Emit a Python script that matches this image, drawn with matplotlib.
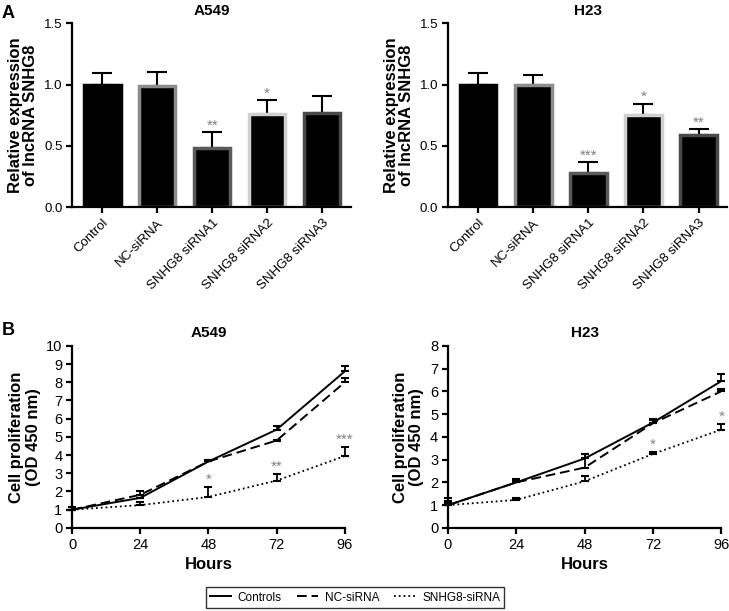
import matplotlib
matplotlib.use("Agg")
import matplotlib.pyplot as plt
import numpy as np

plt.rcParams["font.family"] = ["Liberation Sans", "DejaVu Sans"]

groups = ["Control", "NC-siRNA", "SNHG8 siRNA1", "SNHG8 siRNA2", "SNHG8 siRNA3"]
a549_expr = [1.0, 0.985, 0.485, 0.757, 0.77]
a549_err = [0.095, 0.12, 0.125, 0.115, 0.14]
a549_sig = ["", "", "**", "*", ""]
h23_expr = [1.0, 1.0, 0.28, 0.75, 0.585]
h23_err = [0.095, 0.076, 0.085, 0.095, 0.05]
h23_sig = ["", "", "***", "*", "**"]
bar_edges = ["black", "#8c8c8c", "#5a5a5a", "#d0d0d0", "#4a4a4a"]

hours = [0, 24, 48, 72, 96]
a549_ctrl = [1.0, 1.65, 3.65, 5.4, 8.6]
a549_ctrl_err = [0.15, 0.0, 0.08, 0.22, 0.28]
a549_nc = [1.0, 1.82, 3.65, 4.8, 8.0]
a549_nc_err = [0.15, 0.18, 0.08, 0.05, 0.25]
a549_si = [1.0, 1.25, 1.7, 2.6, 3.95]
a549_si_err = [0.15, 0.15, 0.52, 0.35, 0.5]
a549_si_sig = ["", "", "*", "**", "***"]

h23_ctrl = [1.0, 2.0, 3.05, 4.63, 6.45]
h23_ctrl_err = [0.3, 0.15, 0.2, 0.15, 0.3]
h23_nc = [1.0, 2.0, 2.65, 4.6, 6.0]
h23_nc_err = [0.2, 0.1, 0.6, 0.15, 0.1]
h23_si = [1.0, 1.23, 2.05, 3.25, 4.32]
h23_si_err = [0.1, 0.08, 0.22, 0.1, 0.23]
h23_si_sig = ["", "", "", "*", "*"]

fig = plt.figure(figsize=(7.29, 6.11), dpi=100)


def style_axes(ax, size):
    for s in ["top", "right"]:
        ax.spines[s].set_visible(False)
    for s in ["left", "bottom"]:
        ax.spines[s].set_linewidth(1.6)
    ax.tick_params(width=1.6, length=4, labelsize=size, direction="out", pad=3)


def bar_panel(rect, title, vals, errs, sigs):
    ax = fig.add_axes(rect)
    x = np.arange(len(groups))
    ax.bar(x, vals, width=0.66, color="black", edgecolor=bar_edges, linewidth=2.5, zorder=2)
    ax.errorbar(x, vals, yerr=[np.zeros(len(vals)), errs], fmt="none", ecolor="black",
                elinewidth=1.5, capsize=7, capthick=1.5, zorder=1)
    for xi, v, e, s in zip(x, vals, errs, sigs):
        if s:
            ax.text(xi, v + e - 0.005, s, ha="center", va="bottom", color="#808080", fontsize=11)
    ax.set_xlim(-0.55, 4.52)
    ax.set_ylim(0, 1.5)
    ax.set_yticks([0, 0.5, 1.0, 1.5])
    ax.set_yticklabels(["0.0", "0.5", "1.0", "1.5"])
    ax.set_xticks(x)
    ax.set_xticklabels(groups, rotation=45, ha="right", rotation_mode="anchor")
    ax.set_title(title, fontsize=11, fontweight="bold", pad=6)
    ax.set_ylabel("Relative expression\nof lncRNA SNHG8", fontsize=12, fontweight="bold",
                  linespacing=1.0)
    style_axes(ax, 9.5)
    return ax


def line_panel(rect, title, ymax, ctrl, ce, nc, ne, si, se, sigs):
    ax = fig.add_axes(rect)
    l1, = ax.plot(hours, ctrl, "-", color="black", lw=1.4)
    l2, = ax.plot(hours, nc, "--", color="black", lw=1.4, dashes=(5, 2.5))
    l3, = ax.plot(hours, si, ":", color="black", lw=1.3)
    for ys, es in [(ctrl, ce), (nc, ne), (si, se)]:
        eb = ax.errorbar(hours, ys, yerr=[np.zeros(len(ys)), es], fmt="none", ecolor="black",
                         elinewidth=1.3, capsize=3, capthick=1.5)
        for art in eb.lines[1] + eb.lines[2]:
            art.set_clip_on(False)
    for h, v, e, s in zip(hours, si, se, sigs):
        if s:
            ax.text(h, v + e + 0.02 * ymax / 10, s, ha="center", va="bottom",
                    color="#808080", fontsize=11)
    ax.set_xlim(0, 96)
    ax.set_ylim(0, ymax)
    ax.set_xticks(hours)
    ax.set_yticks(range(0, ymax + 1))
    ax.set_title(title, fontsize=11, fontweight="bold", pad=6)
    ax.set_xlabel("Hours", fontsize=12, fontweight="bold", labelpad=4)
    ax.set_ylabel("Cell proliferation\n(OD 450 nm)", fontsize=12, fontweight="bold",
                  linespacing=1.15)
    style_axes(ax, 10.5)
    return ax, (l1, l2, l3)


bar_panel([0.099, 0.661, 0.382, 0.301], "A549", a549_expr, a549_err, a549_sig)
bar_panel([0.6145, 0.661, 0.383, 0.301], "H23", h23_expr, h23_err, h23_sig)

line_panel([0.099, 0.136, 0.374, 0.298], "A549", 10,
           a549_ctrl, a549_ctrl_err, a549_nc, a549_nc_err, a549_si, a549_si_err, a549_si_sig)
ax, lines = line_panel([0.6145, 0.136, 0.375, 0.298], "H23", 8,
                       h23_ctrl, h23_ctrl_err, h23_nc, h23_nc_err, h23_si, h23_si_err, h23_si_sig)

leg = fig.legend(lines, ["Controls", "NC-siRNA", "SNHG8-siRNA"], loc="center",
                 bbox_to_anchor=(0.487, 0.022), ncol=3, frameon=True, fancybox=False,
                 edgecolor="black", fontsize=8.5, handlelength=1.8, columnspacing=1.3,
                 handletextpad=0.55, borderpad=0.35, borderaxespad=0)
leg.get_frame().set_linewidth(1.0)

fig.text(0.002, 0.992, "A", fontsize=13, fontweight="bold", va="top")
fig.text(0.002, 0.473, "B", fontsize=13, fontweight="bold", va="top")

fig.savefig("out.png", dpi=100)
